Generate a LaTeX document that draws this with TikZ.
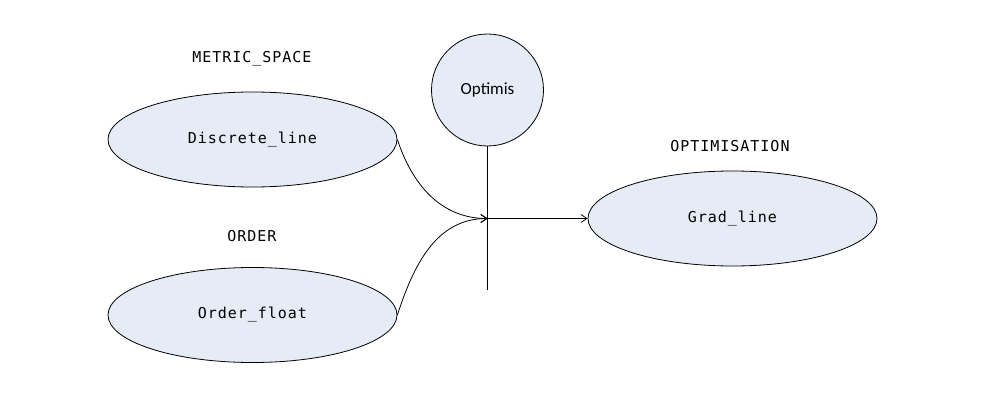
\documentclass[tikz,border=0pt]{standalone}
\usepackage{fontspec}
\usetikzlibrary{shapes.geometric,arrows.meta}
\newfontfamily\monof[LetterSpace=6.5]{DejaVu Sans Mono}
\newfontfamily\calf{Carlito}
\begin{document}
\begin{tikzpicture}[x=1pt,y=-1pt,
  ell/.style={ellipse,draw=black,line width=0.8pt,minimum width=289pt,minimum height=95pt,inner sep=0pt,font=\monof\fontsize{15}{18}\selectfont},
  lbl/.style={font=\monof\fontsize{15}{18}\selectfont,inner sep=0pt},
  conn/.style={line width=0.8pt,-{Straight Barb[length=6pt,width=8pt]}}]
\fill[white] (0,0) rectangle (993,404);
\useasboundingbox (0,0) rectangle (993,404);
\definecolor{nodefill}{HTML}{E6ECF6}
\node[ell,fill=nodefill] (dl) at (252.5,139.5) {Discrete\_line};
\node[ell,fill=nodefill] (of) at (252.5,315) {Order\_float};
\node[ell,fill=nodefill] (gl) at (732.5,218.5) {Grad\_line};
\node[circle,draw=black,fill=nodefill,line width=0.8pt,minimum size=112pt,inner sep=0pt,font=\calf\fontsize{17}{20}\selectfont] (op) at (487.5,90) {Optimis};
\node[lbl] (l1) at (252,59) {METRIC\_SPACE};
\node[lbl] (l2) at (252,236) {ORDER};
\node[lbl] (l3) at (730,146) {OPTIMISATION};
\coordinate (j) at (487.5,218.5);
\coordinate (vb) at (487.5,290);
\draw[line width=0.8pt] (op.south) -- (vb);
\draw[conn] (j) -- (gl.west);
\draw[conn] (dl.east) to[out=-72,in=180] (j);
\draw[conn] (of.east) to[out=72,in=180] (j);
\end{tikzpicture}
\end{document}
